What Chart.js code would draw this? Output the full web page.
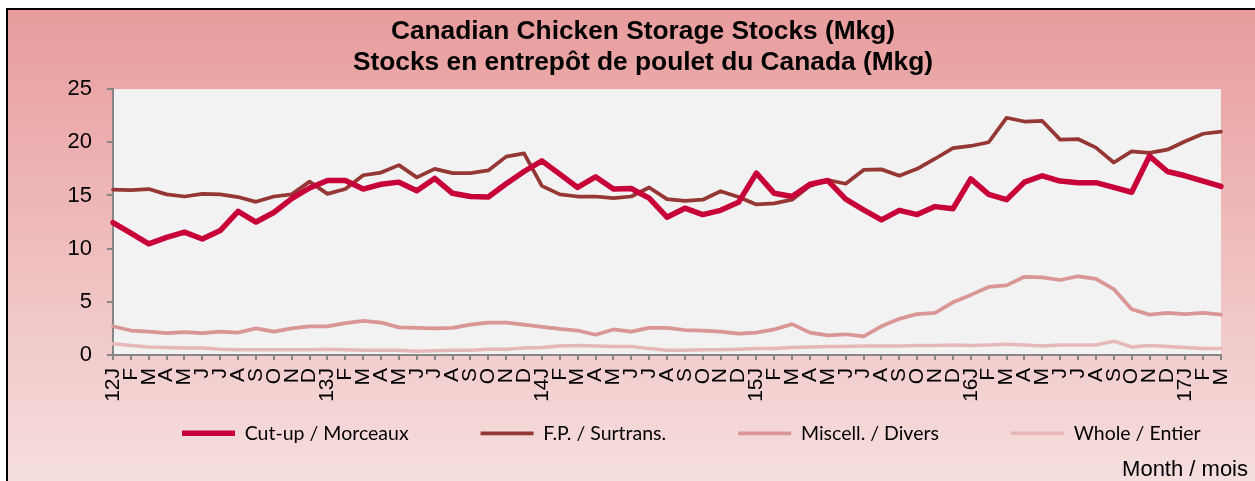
<!DOCTYPE html>
<html lang="en">
<head>
    <meta charset="UTF-8">
    <title>Canadian Chicken Storage Stocks</title>
    <script src="https://cdn.jsdelivr.net/npm/chart.js"></script>
    <style>
        html, body { margin: 0; padding: 0; background: #fff; }
        canvas { display: block; }
    </style>
</head>
<body>
    <canvas id="stocksChart" width="1255" height="481"></canvas>
    <script>
        // month ticks, Jan 2012 .. Mar 2017
        const months = [
            '12J','F','M','A','M','J','J','A','S','O','N','D',
            '13J','F','M','A','M','J','J','A','S','O','N','D',
            '14J','F','M','A','M','J','J','A','S','O','N','D',
            '15J','F','M','A','M','J','J','A','S','O','N','D',
            '16J','F','M','A','M','J','J','A','S','O','N','D',
            '17J','F','M'
        ];

        // Mkg
        const cutUp = [
            12.45, 11.45, 10.45, 11.05, 11.55, 10.9, 11.7, 13.5, 12.5, 13.4, 14.7, 15.7,
            16.4, 16.4, 15.6, 16.05, 16.25, 15.45, 16.6, 15.2, 14.9, 14.85, 16.1, 17.25,
            18.25, 17.0, 15.75, 16.75, 15.6, 15.65, 14.75, 12.95, 13.8, 13.2, 13.6, 14.35,
            17.1, 15.2, 14.9, 16.05, 16.4, 14.65, 13.65, 12.7, 13.6, 13.2, 13.95, 13.75,
            16.55, 15.1, 14.6, 16.25, 16.85, 16.35, 16.2, 16.2, 15.75, 15.3, 18.7, 17.25,
            16.85, 16.35, 15.85
        ];
        const furtherProcessed = [
            15.55, 15.5, 15.6, 15.1, 14.9, 15.15, 15.1, 14.85, 14.4, 14.9, 15.1, 16.3,
            15.15, 15.6, 16.9, 17.15, 17.85, 16.7, 17.5, 17.1, 17.1, 17.35, 18.65, 18.95,
            15.9, 15.1, 14.9, 14.9, 14.75, 14.9, 15.75, 14.65, 14.5, 14.6, 15.4, 14.85,
            14.15, 14.25, 14.6, 15.9, 16.45, 16.1, 17.4, 17.45, 16.85, 17.5, 18.45, 19.45,
            19.65, 20.0, 22.3, 21.95, 22.0, 20.25, 20.3, 19.5, 18.1, 19.15, 19.0, 19.3,
            20.1, 20.8, 21.0
        ];
        const miscell = [
            2.7, 2.3, 2.2, 2.05, 2.15, 2.05, 2.2, 2.1, 2.5, 2.2, 2.5, 2.7,
            2.7, 3.0, 3.2, 3.05, 2.6, 2.55, 2.5, 2.55, 2.85, 3.05, 3.05, 2.85,
            2.65, 2.45, 2.3, 1.9, 2.4, 2.2, 2.55, 2.55, 2.35, 2.3, 2.2, 2.0,
            2.1, 2.4, 2.9, 2.1, 1.85, 1.95, 1.75, 2.7, 3.4, 3.85, 3.95, 4.95,
            5.65, 6.4, 6.55, 7.35, 7.3, 7.05, 7.4, 7.15, 6.2, 4.3, 3.8, 3.95,
            3.85, 3.95, 3.8
        ];
        const whole = [
            1.05, 0.9, 0.75, 0.7, 0.65, 0.65, 0.55, 0.5, 0.5, 0.5, 0.5, 0.5,
            0.55, 0.5, 0.45, 0.45, 0.45, 0.35, 0.4, 0.45, 0.45, 0.55, 0.55, 0.65,
            0.7, 0.85, 0.9, 0.85, 0.8, 0.8, 0.6, 0.45, 0.45, 0.5, 0.5, 0.55,
            0.6, 0.6, 0.7, 0.75, 0.8, 0.8, 0.85, 0.85, 0.85, 0.9, 0.9, 0.95,
            0.9, 0.95, 1.0, 0.95, 0.85, 0.95, 0.95, 0.95, 1.3, 0.75, 0.9, 0.8,
            0.7, 0.6, 0.6
        ];
        const yTicks = [0, 5, 10, 15, 20, 25];

        const axisGrey = '#868686';
        const arial = "'Liberation Sans', Arial, sans-serif";

        function series(label, data, color, width) {
            return {
                label, data,
                borderColor: color, backgroundColor: color,
                borderWidth: width, pointRadius: 0, fill: false, tension: 0,
                borderJoinStyle: 'round', borderCapStyle: 'round'
            };
        }

        // pink frame, plot background and the axis caption
        const frame = {
            id: 'frame',
            beforeDraw(chart) {
                const { ctx, width, height, chartArea: a } = chart;
                ctx.save();
                ctx.fillStyle = '#fff';
                ctx.fillRect(0, 0, width, height);
                const g = ctx.createLinearGradient(0, 9, 0, height);
                g.addColorStop(0, '#E89C9C');
                g.addColorStop(1, '#F6DEDE');
                ctx.fillStyle = g;
                ctx.fillRect(7, 9, width - 7, height - 9);
                ctx.strokeStyle = '#000';
                ctx.lineWidth = 2;
                ctx.beginPath();
                ctx.moveTo(7, height);
                ctx.lineTo(7, 9);
                ctx.lineTo(width, 9);
                ctx.stroke();
                ctx.fillStyle = '#F2F2F2';
                ctx.fillRect(a.left, a.top, a.right - a.left, a.bottom - a.top);
                ctx.restore();
            },
            afterDraw(chart) {
                const ctx = chart.ctx;
                ctx.save();
                ctx.font = '22px ' + arial;
                ctx.fillStyle = '#000';
                ctx.textAlign = 'right';
                ctx.textBaseline = 'alphabetic';
                ctx.fillText('Month / mois', 1248, 476);
                ctx.restore();
            }
        };

        // nudge title and legend to where the original has them
        const place = {
            id: 'place',
            afterLayout(chart) {
                const t = chart.titleBlock;
                t.left += 28.5;
                t.right += 28.5;
                const lg = chart.legend;
                const p = lg.options.labels.padding;
                lg.left = 182 - p;
                lg.right = lg.left + 2000;
                lg.top = 423.5 - p;
                lg.bottom = chart.height;
            }
        };

        new Chart(document.getElementById('stocksChart'), {
            type: 'line',
            data: {
                labels: months,
                datasets: [
                    series('Cut-up / Morceaux', cutUp, '#C8003A', 5.5),
                    series('F.P. / Surtrans.', furtherProcessed, '#953735', 3.75),
                    series('Miscell. / Divers', miscell, '#D99694', 3.75),
                    series('Whole / Entier', whole, '#E6B9B8', 3.5)
                ]
            },
            options: {
                responsive: false,
                animation: false,
                layout: { padding: { top: 9, left: 8, right: 34, bottom: 36 } },
                plugins: {
                    title: {
                        display: true,
                        text: ['Canadian Chicken Storage Stocks (Mkg)', 'Stocks en entrepôt de poulet du Canada (Mkg)'],
                        color: '#000',
                        font: { family: arial, size: 26.3, weight: 'bold', lineHeight: 1.18 },
                        padding: { top: 7, bottom: 11 }
                    },
                    legend: {
                        position: 'bottom',
                        align: 'start',
                        maxHeight: 30,
                        labels: {
                            usePointStyle: true,
                            pointStyle: 'line',
                            pointStyleWidth: 53,
                            padding: 72,
                            color: '#000',
                            font: { family: "Lato, 'Open Sans', sans-serif", size: 19.5 }
                        }
                    },
                    tooltip: { enabled: false }
                },
                scales: {
                    x: {
                        afterFit(s) { s.height = 60; },
                        grid: { display: true, drawOnChartArea: false, color: axisGrey, lineWidth: 2, tickLength: 5 },
                        border: { color: axisGrey, width: 2 },
                        ticks: {
                            autoSkip: false, minRotation: 90, maxRotation: 90, padding: 8,
                            color: '#000', font: { family: arial, size: 21 }
                        }
                    },
                    y: {
                        min: 0, max: 25,
                        afterFit(s) { s.width = 105; },
                        afterBuildTicks(s) { s.ticks = yTicks.map(v => ({ value: v })); },
                        grid: { display: true, drawOnChartArea: false, color: axisGrey, lineWidth: 2, tickLength: 6 },
                        border: { color: axisGrey, width: 2 },
                        ticks: { padding: 15, color: '#000', font: { family: arial, size: 22 } }
                    }
                }
            },
            plugins: [frame, place]
        });
    </script>
</body>
</html>
